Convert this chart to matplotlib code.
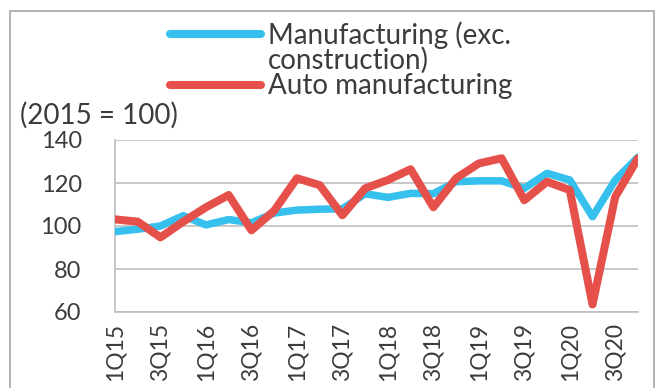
import numpy as np
import matplotlib.pyplot as plt
from matplotlib.lines import Line2D
from matplotlib.patches import Rectangle

# quarterly index, 2015 = 100
quarters = ['1Q15', '2Q15', '3Q15', '4Q15', '1Q16', '2Q16', '3Q16', '4Q16',
            '1Q17', '2Q17', '3Q17', '4Q17', '1Q18', '2Q18', '3Q18', '4Q18',
            '1Q19', '2Q19', '3Q19', '4Q19', '1Q20', '2Q20', '3Q20', '4Q20']
manufacturing = [97.4, 98.5, 100.0, 104.8, 100.5, 103.0, 101.5, 106.0,
                 107.4, 107.8, 108.0, 115.0, 113.3, 115.2, 115.0, 120.6,
                 121.0, 121.0, 117.5, 124.5, 121.4, 104.3, 121.4, 132.0]
auto = [103.1, 102.0, 94.7, 102.0, 108.7, 114.4, 98.0, 107.1,
        122.2, 119.0, 105.0, 117.5, 121.4, 126.4, 108.7, 122.2,
        129.1, 131.5, 112.0, 120.6, 116.7, 63.5, 113.6, 131.5]

BLUE = '#35C0EE'
RED = '#E5504A'
TXT = '#3C3C3C'
GRID = '#BFBFBF'

plt.rcParams['font.family'] = ['Lato', 'DejaVu Sans']

fig = plt.figure(figsize=(6.6, 3.88), dpi=100)
ax = fig.add_axes([115 / 660, 1 - 312 / 388, 523 / 660, 172 / 388])

x = np.arange(len(quarters))
ax.plot(x, manufacturing, color=BLUE, lw=5.4,
        solid_capstyle='round', solid_joinstyle='round', zorder=3)
ax.plot(x, auto, color=RED, lw=5.8,
        solid_capstyle='round', solid_joinstyle='round', zorder=4)

ax.set_xlim(0, len(quarters) - 1)
ax.set_ylim(60, 140)
ax.set_yticks([60, 80, 100, 120, 140])
ax.set_xticks(x[::2])
ax.set_xticklabels(quarters[::2], rotation=90)
ax.tick_params(axis='y', length=0, pad=24, labelsize=17, labelcolor=TXT)
ax.tick_params(axis='x', length=0, pad=8, labelsize=16.5, labelcolor=TXT)
ax.grid(axis='y', color=GRID, lw=1.2)
ax.set_axisbelow(True)
for side in ['top', 'right']:
    ax.spines[side].set_visible(False)
for side in ['left', 'bottom']:
    ax.spines[side].set_color(GRID)
    ax.spines[side].set_linewidth(1.2)

# legend drawn by hand above the plot
for yc, col in [(34, BLUE), (85, RED)]:
    fig.add_artist(Line2D([170 / 660, 261 / 660], [1 - yc / 388] * 2,
                          color=col, lw=5.8, solid_capstyle='round',
                          transform=fig.transFigure))
fig.text(268 / 660, 1 - 35 / 388, 'Manufacturing (exc.', fontsize=20,
         color=TXT, va='center', ha='left')
fig.text(268 / 660, 1 - 60 / 388, 'construction)', fontsize=20,
         color=TXT, va='center', ha='left')
fig.text(268 / 660, 1 - 86 / 388, 'Auto manufacturing', fontsize=20,
         color=TXT, va='center', ha='left')
fig.text(20 / 660, 1 - 115 / 388, '(2015 = 100)', fontsize=20,
         color=TXT, va='center', ha='left')

# outer border
fig.add_artist(Rectangle((10 / 660, -0.1), 644 / 660, 1.1 - 11 / 388,
                         fill=False, edgecolor='#A6A6A6', lw=1.2,
                         transform=fig.transFigure))

fig.savefig('out.png', dpi=100, facecolor='white')
